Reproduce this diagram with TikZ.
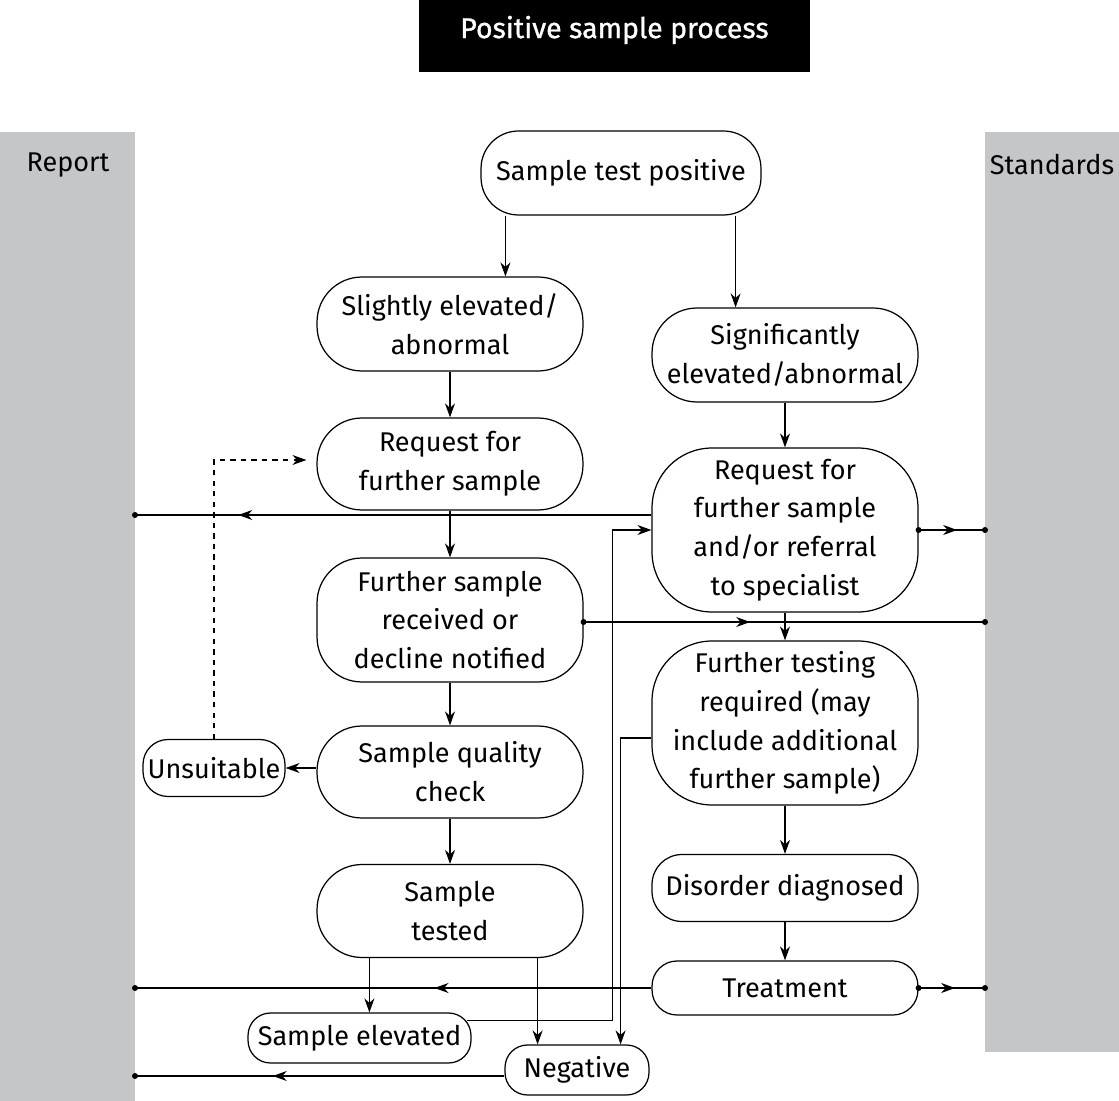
\documentclass[tikz,border=0pt]{standalone}
\usepackage{fontspec}
\setmainfont{Fira Sans}
\usetikzlibrary{arrows.meta,calc,decorations.markings,positioning}

\definecolor{bandgray}{RGB}{197,198,200}

\tikzset{
  stage/.style={draw, line width=0.7pt, rounded corners=0.9cm, align=center, inner sep=0pt,
    minimum width=5.32cm, font=\fontsize{15.4}{22.1}\selectfont},
  flow/.style={draw, line width=0.7pt, -{Stealth[length=0.28cm,width=0.2cm]}},
  link/.style={draw, line width=0.7pt},
  midtip/.style={postaction={decorate}, decoration={markings,
    mark=at position #1 with {\arrow{Stealth[length=0.28cm,width=0.2cm]}}}},
  dot/.style={circle, fill, inner sep=0pt, minimum size=0.12cm},
}

\begin{document}
\begin{tikzpicture}[x=0.02cm,y=-0.02cm]
\useasboundingbox (0,0) rectangle (1119,1101);

% side bands
\fill[bandgray] (0,132) rectangle (135,1101);
\fill[bandgray] (985,132) rectangle (1119,1052);
\node (report) at (68,165) [font=\fontsize{15.4}{22.1}\selectfont] {Report};
\node (standards) at (1052,165) [font=\fontsize{15.4}{22.1}\selectfont] {Standards};

\node (title) at (614.5,30) [fill=black, text=white, minimum width=7.82cm, minimum height=1.68cm,
  font=\fontsize{16.2}{20}\selectfont\addfontfeature{FakeBold=1}] {Positive sample process};

% stages
\node (positive) at (621,173) [stage, minimum width=5.6cm, minimum height=1.68cm, rounded corners=0.75cm] {Sample test positive};
\node (slight) at (450,324) [stage, minimum height=1.88cm] {Slightly elevated/\\abnormal};
\node (signif) at (785,355) [stage, minimum height=1.88cm] {Significantly\\elevated/abnormal};
\node (request) at (450,464) [stage, minimum height=1.84cm] {Request for\\further sample};
\node (referral) at (785,530) [stage, minimum height=3.28cm, rounded corners=1.2cm] {Request for\\further sample\\and/or referral\\to specialist};
\node (received) at (450,620) [stage, minimum height=2.48cm] {Further sample\\received or\\decline notified};
\node (testing) at (785,723) [stage, minimum height=3.28cm, rounded corners=1.2cm] {Further testing\\required (may\\include additional\\further sample)};
\node (quality) at (450,772) [stage, minimum height=1.84cm] {Sample quality\\check};
\node (unsuitable) at (214,768) [stage, minimum width=2.84cm, minimum height=1.14cm, rounded corners=0.5cm] {Unsuitable};
\node (tested) at (450,911) [stage, minimum height=1.86cm] {Sample\\tested};
\node (diagnosed) at (785,888) [stage, minimum height=1.34cm, rounded corners=0.6cm] {Disorder diagnosed};
\node (treatment) at (785,988) [stage, minimum height=1.08cm, rounded corners=0.5cm] {Treatment};
\node (elevated) at (359.5,1038) [stage, minimum width=4.46cm, minimum height=1cm, rounded corners=0.45cm] {Sample elevated};
\node (negative) at (577,1070) [stage, minimum width=2.88cm, minimum height=1cm, rounded corners=0.45cm] {Negative};

% band ends
\coordinate (rep1) at (135,515);
\coordinate (rep2) at (135,988);
\coordinate (rep3) at (135,1076);
\coordinate (std1) at (985,530);
\coordinate (std2) at (985,622);
\coordinate (std3) at (985,988);

% main flow
\draw[flow] ([xshift=0.5cm]positive.south west) -- ([xshift=0.5cm]positive.south west |- slight.north);
\draw[flow] ([xshift=-0.52cm]positive.south east) -- ([xshift=-0.52cm]positive.south east |- signif.north);
\foreach \a/\b in {slight/request, request/received, received/quality, quality/tested,
                   signif/referral, referral/testing, testing/diagnosed, diagnosed/treatment} {
  \draw[flow] (\a) -- (\b);
}
\draw[flow] (quality.west |- unsuitable) -- (unsuitable.east);
\draw[flow, dashed, shorten >=0.2cm] (unsuitable.north) |- ([yshift=0.08cm]request.west);
\draw[flow] ([xshift=1.06cm]tested.south west) -- ([xshift=1.06cm]tested.south west |- elevated.north);
\draw[flow] ([xshift=-0.92cm]tested.south east) -- ([xshift=-0.92cm]tested.south east |- negative.north);
\draw[flow] ($(elevated.north east)+(-5,8)$) -| ($(referral.west)+(-39,0)$) -- (referral.west);
\draw[flow] ($(testing.west)+(0,15)$) -| ($(negative.north east)+(-29,0)$);

% to report and standards
\draw[link, midtip=0.8] (referral.west |- rep1) -- (rep1) node[dot] {};
\draw[link, midtip=0.42] (treatment.west) -- (rep2) node[dot] {};
\draw[link, midtip=0.627] (negative.west |- rep3) -- (rep3) node[dot] {};
\draw[link, midtip=0.58] (referral.east |- std1) node[dot] {} -- (std1) node[dot] {};
\draw[link, midtip=0.415] (received.east |- std2) node[dot] {} -- (std2) node[dot] {};
\draw[link, midtip=0.55] (treatment.east) node[dot] {} -- (std3) node[dot] {};
\end{tikzpicture}
\end{document}
